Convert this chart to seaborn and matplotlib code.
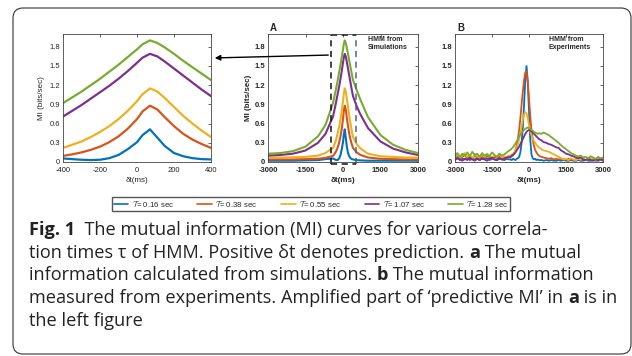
import numpy as np
import pandas as pd
import matplotlib.pyplot as plt
import seaborn as sns
from matplotlib.lines import Line2D
from matplotlib.patches import FancyBboxPatch, FancyArrowPatch
from matplotlib.transforms import IdentityTransform

# correlation times and MATLAB default colours
taus = ['0.16', '0.38', '0.55', '1.07', '1.28']
colors = ['#0072BD', '#D95319', '#EDB120', '#7E2F8E', '#77AC30']

# simulated MI curves (panel A, the left panel is a zoom of the same data)
sim_dt = [-3000, -2500, -2000, -1500, -1000, -700,
          -400, -350, -300, -250, -200, -150, -100, -50, 0, 30, 70, 110, 150, 200, 250, 300, 350, 400,
          550, 700, 1000, 1500, 2000, 2500, 3000]
sim_016 = [0.02, 0.02, 0.02, 0.025, 0.03, 0.045,
           0.055, 0.045, 0.035, 0.03, 0.035, 0.06, 0.11, 0.20, 0.31, 0.42, 0.51, 0.38, 0.25, 0.14, 0.09, 0.06, 0.045, 0.04,
           0.03, 0.025, 0.02, 0.02, 0.02, 0.02, 0.02]
sim_038 = [0.04, 0.04, 0.04, 0.045, 0.05, 0.065,
           0.095, 0.12, 0.15, 0.19, 0.24, 0.31, 0.40, 0.52, 0.67, 0.79, 0.88, 0.82, 0.70, 0.56, 0.44, 0.35, 0.28, 0.22,
           0.15, 0.11, 0.07, 0.05, 0.045, 0.04, 0.04]
sim_055 = [0.07, 0.07, 0.075, 0.08, 0.10, 0.14,
           0.22, 0.27, 0.32, 0.39, 0.47, 0.56, 0.67, 0.80, 0.95, 1.06, 1.15, 1.10, 1.00, 0.86, 0.72, 0.60, 0.49, 0.39,
           0.28, 0.21, 0.13, 0.09, 0.08, 0.07, 0.07]
sim_107 = [0.10, 0.11, 0.13, 0.18, 0.30, 0.44,
           0.71, 0.80, 0.89, 0.99, 1.09, 1.19, 1.30, 1.42, 1.55, 1.63, 1.69, 1.65, 1.57, 1.46, 1.35, 1.24, 1.13, 1.03,
           0.87, 0.74, 0.53, 0.32, 0.21, 0.15, 0.11]
sim_128 = [0.13, 0.14, 0.17, 0.24, 0.40, 0.58,
           0.92, 1.01, 1.10, 1.20, 1.30, 1.41, 1.52, 1.64, 1.76, 1.84, 1.90, 1.86, 1.79, 1.69, 1.58, 1.48, 1.38, 1.28,
           1.12, 0.97, 0.70, 0.42, 0.27, 0.19, 0.14]

# measured MI curves (panel B), sample grid: 100 ms tails, 50 ms around the peak
exp_dt = np.concatenate([np.arange(-3000, -799, 100), np.arange(-750, 401, 50), np.arange(500, 3001, 100)])
exp_016 = [0.04, 0.06, 0.03, 0.05, 0.04, 0.07, 0.03, 0.05, 0.04, 0.06, 0.03, 0.05, 0.04, 0.06, 0.03, 0.05, 0.04, 0.03, 0.05, 0.04, 0.03, 0.05, 0.04,
           0.04, 0.03, 0.05, 0.04, 0.03, 0.05, 0.06, 0.08, 0.15, 0.30, 0.55, 0.90, 1.30, 1.50, 1.25, 0.80, 0.35, 0.12, 0.06, 0.04, 0.05, 0.03, 0.04, 0.03,
           0.03, 0.02, 0.03, 0.02, 0.03, 0.02, 0.02, 0.03, 0.02, 0.03, 0.02, 0.02, 0.03, 0.02, 0.02, 0.03, 0.02, 0.02, 0.03, 0.02, 0.02, 0.03, 0.02, 0.02, 0.03, 0.02]
exp_038 = [0.06, 0.09, 0.05, 0.08, 0.11, 0.06, 0.09, 0.05, 0.10, 0.07, 0.05, 0.09, 0.06, 0.10, 0.07, 0.05, 0.08, 0.06, 0.09, 0.05, 0.07, 0.06, 0.08,
           0.07, 0.09, 0.10, 0.13, 0.18, 0.26, 0.36, 0.50, 0.68, 0.90, 1.10, 1.28, 1.40, 1.42, 1.25, 1.00, 0.72, 0.50, 0.35, 0.25, 0.19, 0.15, 0.12, 0.10,
           0.08, 0.07, 0.06, 0.05, 0.06, 0.04, 0.05, 0.04, 0.05, 0.04, 0.03, 0.05, 0.04, 0.03, 0.04, 0.05, 0.03, 0.04, 0.03, 0.04, 0.05, 0.03, 0.04, 0.03, 0.04, 0.03]
exp_055 = [0.08, 0.12, 0.07, 0.10, 0.14, 0.08, 0.11, 0.06, 0.12, 0.09, 0.07, 0.11, 0.08, 0.13, 0.09, 0.07, 0.10, 0.08, 0.12, 0.07, 0.09, 0.08, 0.10,
           0.10, 0.12, 0.13, 0.15, 0.18, 0.22, 0.28, 0.35, 0.45, 0.56, 0.66, 0.74, 0.78, 0.76, 0.68, 0.58, 0.48, 0.42, 0.37, 0.33, 0.30, 0.27, 0.25, 0.23,
           0.20, 0.18, 0.17, 0.16, 0.14, 0.12, 0.10, 0.08, 0.06, 0.04, 0.05, 0.03, 0.06, 0.04, 0.03, 0.05, 0.04, 0.06, 0.03, 0.05, 0.04, 0.06, 0.03, 0.05, 0.04, 0.05]
exp_107 = [0.03, 0.06, 0.04, 0.02, 0.05, 0.03, 0.07, 0.04, 0.02, 0.05, 0.03, 0.06, 0.04, 0.02, 0.05, 0.07, 0.04, 0.03, 0.06, 0.04, 0.05, 0.07, 0.08,
           0.08, 0.10, 0.11, 0.13, 0.15, 0.18, 0.21, 0.24, 0.28, 0.32, 0.36, 0.40, 0.44, 0.47, 0.49, 0.50, 0.49, 0.48, 0.46, 0.44, 0.42, 0.40, 0.38, 0.36,
           0.34, 0.31, 0.30, 0.28, 0.27, 0.25, 0.23, 0.22, 0.18, 0.16, 0.13, 0.12, 0.10, 0.09, 0.07, 0.06, 0.07, 0.04, 0.03, 0.05, 0.03, 0.02, 0.04, 0.03, 0.05, 0.03]
exp_128 = [0.10, 0.14, 0.08, 0.13, 0.10, 0.15, 0.09, 0.16, 0.11, 0.13, 0.08, 0.14, 0.10, 0.12, 0.09, 0.15, 0.11, 0.08, 0.13, 0.10, 0.12, 0.15, 0.18,
           0.19, 0.21, 0.23, 0.26, 0.29, 0.32, 0.36, 0.40, 0.43, 0.46, 0.48, 0.50, 0.52, 0.53, 0.54, 0.53, 0.52, 0.50, 0.49, 0.47, 0.46, 0.45, 0.44, 0.45,
           0.44, 0.46, 0.44, 0.42, 0.39, 0.36, 0.33, 0.30, 0.26, 0.23, 0.20, 0.17, 0.14, 0.12, 0.10, 0.09, 0.10, 0.07, 0.08, 0.06, 0.09, 0.07, 0.05, 0.08, 0.06, 0.07]

zoom_box = (-500, 500)   # dashed region in panel A shown in the left panel

caption = [
    [("Fig. 1", True), ("  The mutual information (MI) curves for various correla-", False)],
    [("tion times \u03c4 of HMM. Positive \u03b4t denotes prediction. ", False), ("a", True), (" The mutual", False)],
    [("information calculated from simulations. ", False), ("b", True), (" The mutual information", False)],
    [("measured from experiments. Amplified part of \u2018predictive MI\u2019 in ", False), ("a", True), (" is in", False)],
    [("the left figure", False)],
]


def long_form(dt, series):
    rows = []
    for tau, vals in zip(taus, series):
        rows.append(pd.DataFrame({'dt': dt, 'mi': vals, 'tau': tau}))
    return pd.concat(rows, ignore_index=True)


sim_df = long_form(sim_dt, [sim_016, sim_038, sim_055, sim_107, sim_128])
exp_df = long_form(exp_dt, [exp_016, exp_038, exp_055, exp_107, exp_128])

sns.set_theme(style='white')
plt.rcParams['font.family'] = ['Liberation Sans', 'DejaVu Sans']
plt.rcParams['mathtext.fontset'] = 'cm'

W, H = 632, 356
fig = plt.figure(figsize=(W / 100, H / 100), dpi=100)


def fx(px):
    return px / W


def fy(py):
    return 1 - py / H


def make_axes(x0, x1, y0=34, y1=162):
    return fig.add_axes([fx(x0), fy(y1), fx(x1 - x0), (y1 - y0) / H])


ax_zoom = make_axes(63, 211)
ax_a = make_axes(268, 418)
ax_b = make_axes(455, 603)

sns.lineplot(data=sim_df, x='dt', y='mi', hue='tau', palette=colors, legend=False, ax=ax_zoom, linewidth=1.6)
sns.lineplot(data=sim_df, x='dt', y='mi', hue='tau', palette=colors, legend=False, ax=ax_a, linewidth=1.5)
sns.lineplot(data=exp_df, x='dt', y='mi', hue='tau', palette=colors, legend=False, ax=ax_b, linewidth=1.3)

for ax, bold in [(ax_zoom, False), (ax_a, True), (ax_b, True)]:
    w = 'bold' if bold else 'normal'
    ax.set_ylim(0, 2.0)
    ax.set_yticks(np.arange(0, 1.81, 0.3))
    ax.set_yticklabels(['0', '0.3', '0.6', '0.9', '1.2', '1.5', '1.8'], fontweight=w)
    ax.tick_params(direction='in', length=2, width=0.5, labelsize=5.5, colors='#262626',
                   top=True, right=True)
    ax.tick_params(axis='x', pad=3.5)
    ax.tick_params(axis='y', pad=2)
    for s in ax.spines.values():
        s.set_color('#444444')
        s.set_linewidth(0.6)
    ax.set_xlabel('\u03b4t(ms)', fontsize=5.8, labelpad=2, fontweight=w)
    ax.set_ylabel('')

ax_zoom.set_xlim(-400, 400)
ax_zoom.set_xticks([-400, -200, 0, 200, 400])
ax_zoom.set_xticklabels(['-400', '-200', '0', '200', '400'])
ax_zoom.set_ylabel('MI (bits/sec)', fontsize=5.8, labelpad=3)

for ax in (ax_a, ax_b):
    ax.set_xlim(-3000, 3000)
    ax.set_xticks([-3000, -1500, 0, 1500, 3000])
    ax.set_xticklabels(['-3000', '-1500', '0', '1500', '3000'], fontweight='bold')
ax_a.set_ylabel('MI (bits/sec)', fontsize=5.8, labelpad=2, fontweight='bold')

ax_a.text(0.667, 0.985, 'HMM from\nSimulations', transform=ax_a.transAxes, ha='left', va='top',
          fontsize=5, fontweight='bold', linespacing=1.25, color='#262626')
ax_b.text(0.635, 0.985, 'HMM from\nExperiments', transform=ax_b.transAxes, ha='left', va='top',
          fontsize=5, fontweight='bold', linespacing=1.25, color='#262626')
fig.text(fx(270), fy(28), 'A', fontsize=7, fontweight='bold', va='center', color='#262626')
fig.text(fx(457), fy(28), 'B', fontsize=7, fontweight='bold', va='center', color='#262626')

# dashed zoom region in panel A
x_lo, x_hi = zoom_box
ax_a.plot([x_lo, x_lo], [-0.03, 1.98], ls=(0, (4, 3)), color='#111111', lw=1.1, clip_on=False)
ax_a.plot([x_hi, x_hi], [-0.03, 1.98], ls=(0, (4, 3)), color='#4a6690', lw=1.1, clip_on=False)
ax_a.plot([x_lo, x_hi], [1.98, 1.98], ls=(0, (4, 3)), color='#111111', lw=1.1, clip_on=False)
ax_a.plot([x_lo, x_hi], [-0.03, -0.03], ls=(0, (4, 3)), color='#111111', lw=1.1, clip_on=False)

fig.add_artist(FancyArrowPatch(posA=(fx(331), fy(55)), posB=(fx(212), fy(58)), transform=fig.transFigure,
                               arrowstyle='-|>', mutation_scale=8, color='black', lw=1.0))

handles = [Line2D([], [], color=c, lw=1.2) for c in colors]
labels = [r'$\mathcal{T}$= ' + t + ' sec' for t in taus]
fig.legend(handles, labels, loc='center', bbox_to_anchor=(fx(311), fy(204)), ncol=5, fontsize=5.6,
           frameon=True, fancybox=False, edgecolor='#555555', handlelength=1.9, handletextpad=0.4,
           columnspacing=3.05, borderpad=0.25, framealpha=1)

# caption with bold pieces, sized so the second line spans the text block
renderer = fig.canvas.get_renderer()
cap_font = ['Open Sans', 'DejaVu Sans']
probe = fig.text(0, 0, ''.join(s for s, _ in caption[1]), fontsize=10, family=cap_font)
width10 = probe.get_window_extent(renderer).width
probe.remove()
cap_size = 10 * 553 / width10

for i, line in enumerate(caption):
    x = 29
    y = 230 + i * 22.7
    for text, bold in line:
        t = fig.text(fx(x), fy(y), text, fontsize=cap_size, family=cap_font,
                     fontweight='bold' if bold else 'normal', ha='left', va='center', color='#222222')
        x += t.get_window_extent(renderer).width

fig.add_artist(FancyBboxPatch((13, 2), 618, 346, boxstyle='round,pad=0,rounding_size=10',
                              transform=IdentityTransform(), fill=False, edgecolor='#333333', lw=0.8))

fig.savefig('out.png', dpi=100)
